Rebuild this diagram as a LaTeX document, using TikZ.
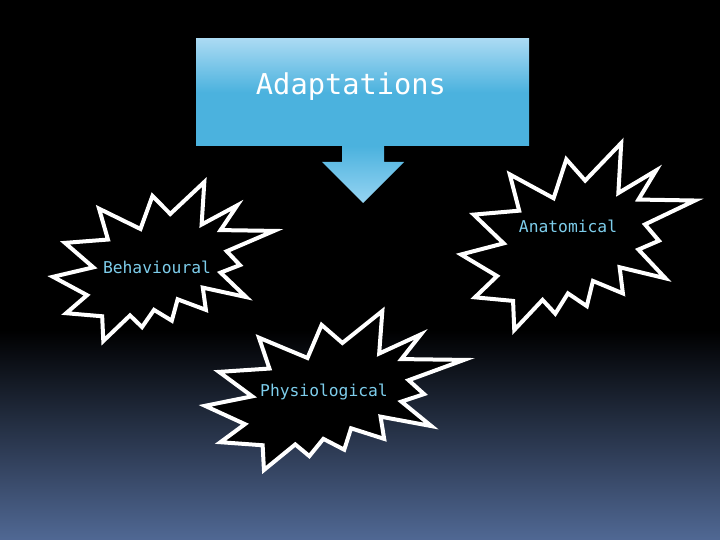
\documentclass[tikz,border=0pt]{standalone}
\usepackage{fontspec}
\newfontfamily\labelfont{DejaVu Sans Mono}
\definecolor{bgbot}{RGB}{80,104,148}
\definecolor{boxtop}{RGB}{170,218,243}
\definecolor{boxmid}{RGB}{75,178,222}
\definecolor{arrowlight}{RGB}{150,212,242}
\definecolor{labelblue}{RGB}{125,205,235}
\tikzset{
  burst/.pic={
    \filldraw[fill=black, draw=white, line width=4pt, line join=miter]
      (53.06,20.10) -- (68.47,0) -- (67.25,26.75) -- (83.37,14.69) --
      (75.83,30.24) -- (100,30.76) -- (78.63,43.53) -- (84.58,52.27) --
      (75.83,56.99) -- (87.39,72.37) -- (67.78,66.44) -- (69.18,80.42) --
      (56.39,73.77) -- (53.76,87.23) -- (45.70,80.42) -- (40.28,91.26) --
      (34.85,83.91) -- (22.76,100) -- (22.25,84.44) -- (5.95,82.52) --
      (15.42,71.16) -- (0,59.62) -- (18.22,53.67) -- (5.43,38.29) --
      (24.87,36.19) -- (20.84,16.78) -- (39.58,29.55) -- (45.01,8.74) -- cycle;
  },
  lab/.style={text=labelblue, font=\labelfont\fontsize{16.3}{18}\selectfont, anchor=base, inner sep=0pt},
  title/.style={text=white, font=\labelfont\fontsize{28.7}{32}\selectfont, anchor=base, inner sep=0pt},
  topbox/.style={rectangle, draw=none, inner sep=0pt, top color=boxtop, bottom color=boxmid, middle color=boxmid},
}
\begin{document}
\begin{tikzpicture}[x=1pt, y=-1pt]
  \useasboundingbox (0,0) rectangle (720,540);
  % background
  \fill[black] (0,0) rectangle (720,331);
  \shade[top color=black, bottom color=bgbot] (0,330) rectangle (720,540);
  % arrow
  \shade[top color=boxmid, bottom color=arrowlight]
    (342,146) -- (384,146) -- (384,162) -- (404,162) -- (363,203) -- (322,162) -- (342,162) -- cycle;
  % title box
  \node[topbox, minimum width=333pt, minimum height=107pt] (adapt) at (362.5,92.5) {};
  \node[title] (adapttext) at (351,95) {Adaptations};
  % bursts
  \pic (behburst) [xscale=2.21, yscale=1.59] at (53,182) {burst};
  \pic (anaburst) [xscale=2.34, yscale=1.87] at (461,143) {burst};
  \pic (phyburst) [xscale=2.59, yscale=1.59] at (205,311) {burst};
  % labels
  \node[lab] (beh) at (157,273) {Behavioural};
  \node[lab] (ana) at (568,232.5) {Anatomical};
  \node[lab] (phy) at (324,396) {Physiological};
\end{tikzpicture}
\end{document}
